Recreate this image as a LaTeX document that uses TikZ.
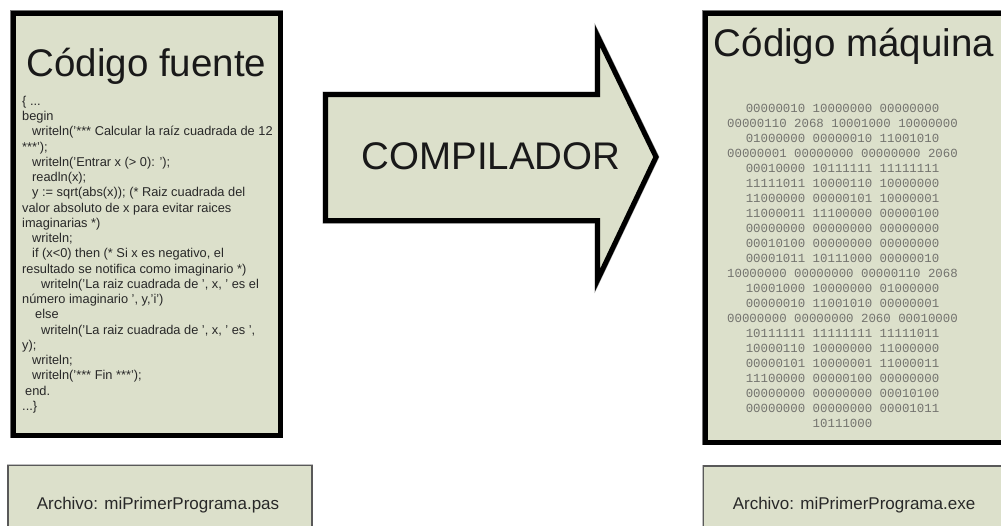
\documentclass[tikz,border=0pt]{standalone}
\usepackage{fontspec}
\setmainfont{Liberation Sans}
\newfontfamily\bitsfont{Liberation Mono}
\definecolor{panel}{RGB}{220,224,203}
\definecolor{titleink}{RGB}{25,25,25}
\definecolor{codeink}{RGB}{40,40,40}
\definecolor{bitink}{RGB}{115,115,110}
\definecolor{labelink}{RGB}{40,40,40}
\begin{document}
\begin{tikzpicture}[x=1pt,y=-1pt,
  bigbox/.style={fill=panel, draw=black, line width=5pt,
    preaction={draw=black!55, line width=6pt},
    inner sep=0pt, outer sep=0pt, anchor=north west},
  filebox/.style={fill=panel, draw=black!65, line width=1.4pt,
    preaction={draw=black!25, line width=2.6pt},
    inner sep=0pt, outer sep=0pt, anchor=north west},
  heading/.style={font=\fontsize{38.5}{42}\selectfont, text=titleink, inner sep=0pt, anchor=base},
  codeline/.style={font=\fontsize{12.8}{15}\selectfont, text=codeink, inner sep=0pt, anchor=base west},
  bitline/.style={font=\bitsfont\fontsize{12.4}{15}\selectfont, text=bitink, inner sep=0pt, anchor=base},
  filelabel/.style={font=\fontsize{17}{20}\selectfont, text=labelink, inner sep=0pt, anchor=base},
  arrowshape/.style={fill=panel, draw=black, line width=5pt, line join=miter,
    preaction={draw=black!45, line width=6pt}}]
\useasboundingbox (0,0) rectangle (1001,525);
\clip (0,0) rectangle (1001,525);

% source code panel
\node[bigbox, minimum width=267pt, minimum height=422pt] (src) at (13,13) {};
\node[heading] (srctitle) at (146.5,76) {Código fuente};
\foreach \ind/\txt [count=\i] in {
  0/{\{ ...},
  0/{begin},
  10/{writeln('*** Calcular la raíz cuadrada de 12},
  0/{***');},
  10/{writeln('Entrar x (> 0): ');},
  10/{readln(x);},
  10/{y := sqrt(abs(x)); (* Raiz cuadrada del},
  0/{valor absoluto de x para evitar raices},
  0/{imaginarias *)},
  10/{writeln;},
  10/{if (x<0) then (* Si x es negativo, el},
  0/{resultado se notifica como imaginario *)},
  19/{writeln('La raiz cuadrada de ', x, ' es el},
  0/{número imaginario ', y,'i')},
  13/{else},
  19/{writeln('La raiz cuadrada de ', x, ' es ',},
  0/{y);},
  10/{writeln;},
  10/{writeln('*** Fin ***');},
  3/{end.},
  0/{...\}}}
  \node[codeline] (code-\i) at ({22+\ind},{90+15.25*\i}) {\txt};

% compiler arrow
\draw[arrowshape] (325.5,94.5) -- (597.5,94.5) -- (597.5,36) -- (656,157)
  -- (597.5,280) -- (597.5,220.5) -- (325.5,220.5) -- cycle;
\node[font=\fontsize{38.5}{42}\selectfont, text=titleink, inner sep=0pt] (comp) at (491,156) {COMPILADOR};

% machine code panel
\node[bigbox, minimum width=312pt, minimum height=429pt] (bin) at (705,13) {};
\node[heading] (bintitle) at (854,56) {Código máquina};
\foreach \txt [count=\i] in {
  00000010 10000000 00000000,
  00000110 2068 10001000 10000000,
  01000000 00000010 11001010,
  00000001 00000000 00000000 2060,
  00010000 10111111 11111111,
  11111011 10000110 10000000,
  11000000 00000101 10000001,
  11000011 11100000 00000100,
  00000000 00000000 00000000,
  00010100 00000000 00000000,
  00001011 10111000 00000010,
  10000000 00000000 00000110 2068,
  10001000 10000000 01000000,
  00000010 11001010 00000001,
  00000000 00000000 2060 00010000,
  10111111 11111111 11111011,
  10000110 10000000 11000000,
  00000101 10000001 11000011,
  11100000 00000100 00000000,
  00000000 00000000 00010100,
  00000000 00000000 00001011,
  10111000}
  \node[bitline] (bits-\i) at (842.5,{97+15*\i}) {\txt};

% file name boxes
\node[filebox, minimum width=304pt, minimum height=80pt] (srcfile) at (8,465.5) {};
\node[filelabel] (srcname) at (158,509) {Archivo: miPrimerPrograma.pas};
\node[filebox, minimum width=320pt, minimum height=80pt] (binfile) at (703.5,466) {};
\node[filelabel] (binname) at (854,509) {Archivo: miPrimerPrograma.exe};
\end{tikzpicture}
\end{document}
